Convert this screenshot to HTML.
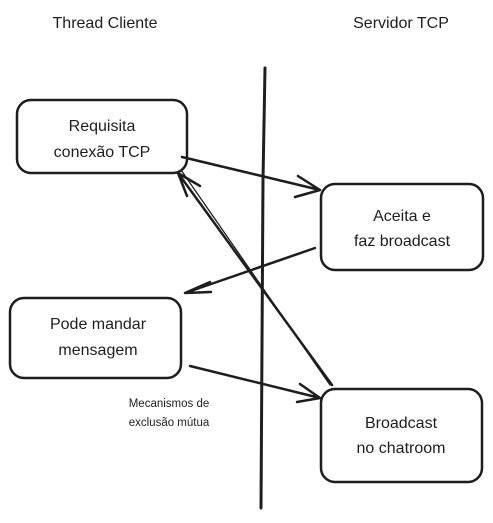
<!DOCTYPE html>
<html><head><style>
body{margin:0;background:#fff;width:493px;height:518px;overflow:hidden}
svg text{font-family:"Comic Sans MS","Liberation Sans",sans-serif;fill:#1e1e1e}
</style></head><body>
<svg width="493" height="518" viewBox="0 0 493 518" xmlns="http://www.w3.org/2000/svg">
<g fill="none" stroke="#1e1e1e" stroke-width="2.5" stroke-linecap="round">
<rect x="17" y="100" width="170" height="73" rx="14"/>
<rect x="321" y="184" width="162" height="86" rx="14"/>
<rect x="10" y="298" width="171" height="80" rx="14"/>
<rect x="321" y="389" width="161" height="93" rx="14"/>
<path d="M265 68 L263 180 L261 508" stroke-width="3"/>
<path d="M182 157 L320 190 M298 176 L320 190 M295 197 L320 190"/>
<path d="M315 248 L185 293 M210 282 L185 293 M211 292 L185 293"/>
<path d="M190 366 L320 398 M300 384 L320 398 M297 402 L320 398"/>
<path d="M332 385 L178 173 M178 173 L200 186 M178 173 L187 196"/>
<path d="M330 385 L181 170" stroke-width="1.3"/>
</g>
<g font-size="16" text-anchor="middle">
<text x="105" y="28">Thread Cliente</text>
<text x="401" y="28">Servidor TCP</text>
<text x="102" y="131">Requisita</text>
<text x="102" y="157">conexão TCP</text>
<text x="402" y="221">Aceita e</text>
<text x="402" y="246">faz broadcast</text>
<text x="98" y="329">Pode mandar</text>
<text x="98" y="355">mensagem</text>
<text x="401" y="428">Broadcast</text>
<text x="401" y="453">no chatroom</text>
</g>
<g font-size="11.5" text-anchor="middle">
<text x="169" y="407">Mecanismos de</text>
<text x="169" y="426">exclusão mútua</text>
</g>
</svg>
</body></html>
